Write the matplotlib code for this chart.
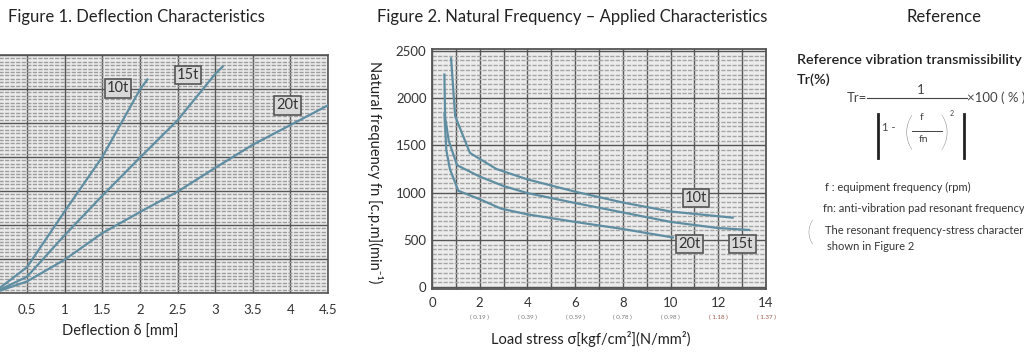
import matplotlib.pyplot as plt
from matplotlib.lines import Line2D

plt.rcParams['font.family'] = ['Lato', 'DejaVu Sans']

# Figure 1: load vs deflection (y labels are cut off in the source)
defl_10t_x = [0.05, 0.5, 1.0, 1.5, 2.0, 2.1]
defl_10t_y = [0.0, 3.8, 12.0, 20.0, 29.9, 31.4]
defl_15t_x = [0.05, 0.5, 1.0, 1.5, 2.0, 2.5, 3.0, 3.1]
defl_15t_y = [0.0, 2.4, 8.5, 14.3, 19.9, 25.4, 32.2, 33.3]
defl_20t_x = [0.05, 0.5, 1.0, 1.5, 2.0, 2.5, 3.0, 3.5, 4.0, 4.5]
defl_20t_y = [0.0, 1.7, 4.9, 8.8, 11.9, 14.9, 18.4, 21.8, 24.7, 27.6]
defl_ticks = [0.5, 1, 1.5, 2, 2.5, 3, 3.5, 4, 4.5]
defl_labels = ['0.5', '1', '1.5', '2', '2.5', '3', '3.5', '4', '4.5']
defl_tags = {'10t': (1.71, 30.1), '15t': (2.64, 32.1), '20t': (3.96, 27.6)}

# Figure 2: natural frequency vs load stress
fn_10t_x = [0.8, 0.97, 1.59, 2.7, 4.0, 6.0, 8.0, 10.0, 12.6]
fn_10t_y = [2420, 1810, 1420, 1250, 1140, 1010, 895, 800, 735]
fn_15t_x = [0.52, 0.55, 0.7, 1.05, 2.0, 3.0, 4.0, 6.0, 8.0, 10.0, 12.0, 13.3]
fn_15t_y = [2250, 1800, 1550, 1290, 1170, 1070, 995, 890, 790, 690, 625, 605]
fn_20t_x = [0.52, 0.6, 0.75, 1.1, 2.0, 2.9, 4.0, 6.0, 8.0, 10.1]
fn_20t_y = [1840, 1450, 1250, 1020, 930, 830, 770, 690, 615, 525]
stress_ticks = [0, 2, 4, 6, 8, 10, 12, 14]
stress_N = ['', '( 0.19 )', '( 0.39 )', '( 0.59 )', '( 0.78 )', '( 0.98 )', '( 1.18 )', '( 1.37 )']
fn_ticks = [0, 500, 1000, 1500, 2000, 2500]
fn_tags = {'10t': (11.07, 940), '20t': (10.8, 455), '15t': (13.0, 455)}

LINE = '#5f8ea3'
GRID_DARK = '#555555'
W, H = 1024, 354


def px(x, y):
    return x / W, 1 - y / H


def tag(ax, text, xy):
    ax.text(xy[0], xy[1], text, ha='center', va='center', fontsize=10.5, color='#333333',
            bbox=dict(boxstyle='square,pad=0.15', fc='#d9d9d9', ec='#555555', lw=1.2), zorder=5)


fig = plt.figure(figsize=(10.24, 3.54), dpi=100)
fig.patch.set_facecolor('white')

# ---- Figure 1 ----
ax1 = fig.add_axes([-10.6 / W, (H - 293) / H, 338.6 / W, 238 / H])
ax1.set_facecolor('#ebebeb')
ax1.set_xlim(0, 4.5)
ax1.set_ylim(0, 35)
ax1.set_xticks(defl_ticks, defl_labels)
ax1.set_yticks(range(0, 36, 5))
ax1.set_yticks([v * 0.5 for v in range(71)], minor=True)
ax1.set_yticklabels([])
ax1.grid(which='minor', axis='y', color='#9d9d9d', lw=1.0, ls=(0, (3, 1)))
ax1.grid(which='major', color=GRID_DARK, lw=1.0)
ax1.tick_params(which='both', length=0, labelsize=9.5, labelcolor='#333333', pad=8)
for s in ax1.spines.values():
    s.set_color(GRID_DARK)
    s.set_linewidth(1.2)
ax1.set_axisbelow(True)
for xs, ys in [(defl_10t_x, defl_10t_y), (defl_15t_x, defl_15t_y), (defl_20t_x, defl_20t_y)]:
    ax1.plot(xs, ys, color=LINE, lw=1.6, zorder=3)
for k, v in defl_tags.items():
    tag(ax1, k, v)
ax1.text(0.386, -0.135, 'Deflection δ [mm]', transform=ax1.transAxes, ha='center', va='top',
         fontsize=10.5, color='#222222')

# ---- Figure 2 ----
ax2 = fig.add_axes([432 / W, (H - 289) / H, 334 / W, 240 / H])
ax2.set_facecolor('#ececec')
ax2.set_xlim(0, 14)
ax2.set_ylim(-20, 2520)
ax2.set_xticks(stress_ticks, [str(v) for v in stress_ticks])
ax2.set_xticks(range(1, 14, 2), minor=True)
ax2.set_yticks(fn_ticks, [str(v) for v in fn_ticks])
ax2.set_yticks(range(0, 2501, 50), minor=True)
ax2.grid(which='minor', axis='y', color='#a5a5a5', lw=1.0, ls=(0, (3, 1)))
ax2.grid(which='both', axis='x', color=GRID_DARK, lw=1.0)
ax2.grid(which='major', axis='y', color=GRID_DARK, lw=1.0)
ax2.tick_params(which='both', length=0, labelsize=9.5, labelcolor='#333333')
ax2.tick_params(axis='x', pad=6)
ax2.tick_params(axis='y', pad=4)
for s in ax2.spines.values():
    s.set_color(GRID_DARK)
    s.set_linewidth(1.3)
ax2.set_axisbelow(True)
for xs, ys in [(fn_10t_x, fn_10t_y), (fn_15t_x, fn_15t_y), (fn_20t_x, fn_20t_y)]:
    ax2.plot(xs, ys, color=LINE, lw=1.6, zorder=3)
for k, v in fn_tags.items():
    tag(ax2, k, v)
for x, s in zip(stress_ticks, stress_N):
    c = '#9a5a4a' if x >= 12 else '#777777'
    ax2.text(x, -0.12, s, transform=ax2.get_xaxis_transform(), ha='center', va='center',
             fontsize=4.5, color=c)
ax2.text(0.476, -0.175, 'Load stress σ[kgf/cm²](N/mm²)', transform=ax2.transAxes,
         ha='center', va='top', fontsize=10.5, color='#222222')
ax2.text(-0.171, 0.485, 'Natural frequency fn [c.p.m](min⁻¹)', transform=ax2.transAxes,
         ha='center', va='center', rotation=270, fontsize=10.5, color='#222222')

# ---- titles ----
fig.text(*px(8, 17), 'Figure 1. Deflection Characteristics', ha='left', va='center',
         fontsize=12, color='#222222')
fig.text(*px(377, 17), 'Figure 2. Natural Frequency – Applied Characteristics', ha='left',
         va='center', fontsize=12, color='#222222')
fig.text(*px(944, 17), 'Reference', ha='center', va='center', fontsize=12, color='#222222')

# ---- reference panel ----
fig.text(*px(797, 60), 'Reference vibration transmissibility', ha='left', va='center',
         fontsize=10.4, color='#222222', fontweight='semibold')
fig.text(*px(797, 80), 'Tr(%)', ha='left', va='center', fontsize=10.4, color='#222222',
         fontweight='semibold')
fig.text(*px(847, 98), 'Tr=', ha='left', va='center', fontsize=9.5, color='#444444')
fig.add_artist(Line2D([867 / W, 967 / W], [1 - 98 / H] * 2, color='#444444', lw=0.8))
fig.text(*px(921, 90), '1', ha='center', va='center', fontsize=9.5, color='#444444')
fig.text(*px(967, 98), '×100 ( % )', ha='left', va='center', fontsize=9.5, color='#444444')
for bx in (878, 964):
    fig.add_artist(Line2D([bx / W] * 2, [1 - 114 / H, 1 - 158 / H], color='#222222', lw=2))
fig.text(*px(882, 127), '1 -', ha='left', va='center', fontsize=8, color='#444444')
fig.text(*px(908, 134), '(', ha='center', va='center', fontsize=28, color='#777777',
         fontweight='light')
fig.text(*px(944, 134), ')', ha='center', va='center', fontsize=28, color='#777777',
         fontweight='light')
fig.text(*px(922, 118), 'f', ha='center', va='center', fontsize=7.5, color='#444444')
fig.add_artist(Line2D([912 / W, 942 / W], [1 - 131 / H] * 2, color='#444444', lw=0.7))
fig.text(*px(923, 139), 'fn', ha='center', va='center', fontsize=7.5, color='#444444')
fig.text(*px(952, 114), '2', ha='center', va='center', fontsize=5, color='#444444')
fig.text(*px(825, 187), 'f : equipment frequency (rpm)', ha='left', va='center', fontsize=8,
         color='#333333')
fig.text(*px(823, 208), 'fn: anti-vibration pad resonant frequency (', ha='left',
         va='center', fontsize=8, color='#333333')
fig.text(*px(810, 233), '(', ha='center', va='center', fontsize=20, color='#555555',
         fontweight='light')
fig.text(*px(825, 231), 'The resonant frequency-stress characteristics are', ha='left',
         va='center', fontsize=8, color='#333333')
fig.text(*px(827, 247), 'shown in Figure 2', ha='left', va='center', fontsize=8,
         color='#333333')

fig.savefig('out.png', dpi=100)
